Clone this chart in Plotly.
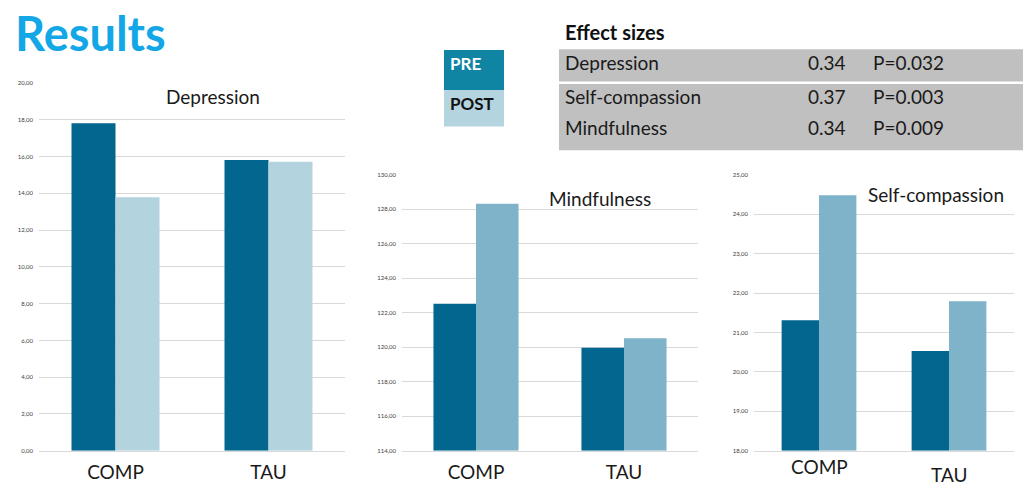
import plotly.graph_objects as go

W, H = 1024, 487

categories = ["COMP", "TAU"]
series_names = ["PRE", "POST"]

depression_pre = [17.8, 15.8]
depression_post = [13.78, 15.71]
mindfulness_pre = [122.53, 119.98]
mindfulness_post = [128.32, 120.53]
selfcomp_pre = [21.31, 20.53]
selfcomp_post = [24.48, 21.79]

effect_labels = ["Depression", "Self-compassion", "Mindfulness"]
effect_sizes = ["0.34", "0.37", "0.34"]
p_values = ["P=0.032", "P=0.003", "P=0.009"]

PRE_COL = "#02668F"
POST_LIGHT = "#B3D3DF"
POST_MID = "#7FB3C9"
GRID = "#D9D9D9"


def X(px):
    return px / W


def Y(py):
    return 1 - py / H


fig = go.Figure()

panels = [
    dict(xa="x", ya="y", pre=depression_pre, post=depression_post, post_col=POST_LIGHT,
         xd=[39, 345], yd=[80, 453.3], rng=[0, 20], dt=2),
    dict(xa="x2", ya="y2", pre=mindfulness_pre, post=mindfulness_post, post_col=POST_MID,
         xd=[402, 698], yd=[173.3, 453.3], rng=[114, 130], dt=2),
    dict(xa="x3", ya="y3", pre=selfcomp_pre, post=selfcomp_post, post_col=POST_MID,
         xd=[754, 1014], yd=[173.3, 453.3], rng=[18, 25], dt=1),
]

layout_axes = {}
for i, p in enumerate(panels):
    base = p["rng"][0]
    fig.add_trace(go.Bar(x=categories, y=[v - base for v in p["pre"]], base=base,
                         name=series_names[0], marker_color=PRE_COL, marker_line_width=0,
                         xaxis=p["xa"], yaxis=p["ya"], showlegend=False))
    fig.add_trace(go.Bar(x=categories, y=[v - base for v in p["post"]], base=base,
                         name=series_names[1], marker_color=p["post_col"], marker_line_width=0,
                         xaxis=p["xa"], yaxis=p["ya"], showlegend=False))
    sfx = "" if i == 0 else str(i + 1)
    layout_axes["xaxis" + sfx] = dict(
        domain=[X(p["xd"][0]), X(p["xd"][1])], anchor=p["ya"],
        showgrid=False, showline=True, linecolor=GRID, linewidth=1,
        ticks="", showticklabels=(i != 2), ticklabelstandoff=4,
        tickfont=dict(family="Lato", size=19, color="#1a1a1a"), fixedrange=True,
    )
    layout_axes["yaxis" + sfx] = dict(
        domain=[Y(p["yd"][1]), Y(p["yd"][0])], anchor=p["xa"],
        range=p["rng"], dtick=p["dt"], tick0=p["rng"][0], tickformat=".2f",
        showgrid=True, gridcolor=GRID, gridwidth=1, zeroline=False, showline=False,
        ticks="", ticklabelstandoff=5,
        tickfont=dict(family="Lato", size=6, color="#404040"),
    )

fig.update_layout(
    width=W, height=H, margin=dict(l=0, r=0, t=0, b=0),
    paper_bgcolor="white", plot_bgcolor="white",
    barmode="group", bargap=0.425, bargroupgap=0,
    separators=", ",
    **layout_axes,
)

ann = []
shapes = []

# Title
ann.append(dict(text="<b>Results</b>", x=X(14), y=1, xref="paper", yref="paper",
                xanchor="left", yanchor="top", showarrow=False, borderpad=0,
                font=dict(family="Lato", size=47, color="#14A7E7")))

# Panel titles
for txt, cx, cy in [("Depression", 213, 94), ("Mindfulness", 600, 197), ("Self-compassion", 936, 193)]:
    ann.append(dict(text=txt, x=X(cx), y=Y(cy), xref="paper", yref="paper",
                    xanchor="center", yanchor="middle", showarrow=False,
                    font=dict(family="Lato", size=19, color="#1a1a1a")))

# Category labels for right panel (TAU sits lower)
for cat, py in zip(categories, [469, 477]):
    ann.append(dict(text=cat, x=cat, y=Y(py), xref="x3", yref="paper",
                    xanchor="center", yanchor="middle", showarrow=False,
                    font=dict(family="Lato", size=19, color="#1a1a1a")))

# Legend boxes
shapes.append(dict(type="rect", xref="paper", yref="paper", x0=X(444), x1=X(504),
                   y0=Y(87.3), y1=Y(46.7), fillcolor="#0F84A3", line_width=0, layer="below"))
shapes.append(dict(type="rect", xref="paper", yref="paper", x0=X(444), x1=X(504),
                   y0=Y(124.3), y1=Y(87.3), fillcolor="#B4D4E0", line_width=0, layer="below"))
ann.append(dict(text="<b>" + series_names[0] + "</b>", x=X(448), y=Y(60.5), xref="paper", yref="paper",
                xanchor="left", yanchor="middle", showarrow=False,
                font=dict(family="Lato", size=17, color="white")))
ann.append(dict(text="<b>" + series_names[1] + "</b>", x=X(448), y=Y(100.5), xref="paper", yref="paper",
                xanchor="left", yanchor="middle", showarrow=False,
                font=dict(family="Lato", size=17, color="#111111")))

# Effect sizes table
ann.append(dict(text="<b>Effect sizes</b>", x=X(563), y=Y(28), xref="paper", yref="paper",
                xanchor="left", yanchor="middle", showarrow=False,
                font=dict(family="Lato", size=20, color="#111111")))
shapes.append(dict(type="rect", xref="paper", yref="paper", x0=X(559), x1=X(1023),
                   y0=Y(148.3), y1=Y(46), fillcolor="#C0C0C0", line_width=0, layer="below"))
shapes.append(dict(type="line", xref="paper", yref="paper", x0=X(559), x1=X(1023),
                   y0=Y(80), y1=Y(80), line=dict(color="white", width=2.5), layer="below"))
row_y = [59.5, 94, 125]
for lab, es, pv, ry in zip(effect_labels, effect_sizes, p_values, row_y):
    for txt, px in [(lab, 563), (es, 806), (pv, 871)]:
        ann.append(dict(text=txt, x=X(px), y=Y(ry), xref="paper", yref="paper",
                        xanchor="left", yanchor="middle", showarrow=False,
                        font=dict(family="Lato", size=19, color="#1a1a1a")))

fig.update_layout(annotations=ann, shapes=shapes)

fig.write_html("out.html", config={"displayModeBar": False},
               post_script="document.body.style.margin='0';document.body.style.overflow='hidden';")
